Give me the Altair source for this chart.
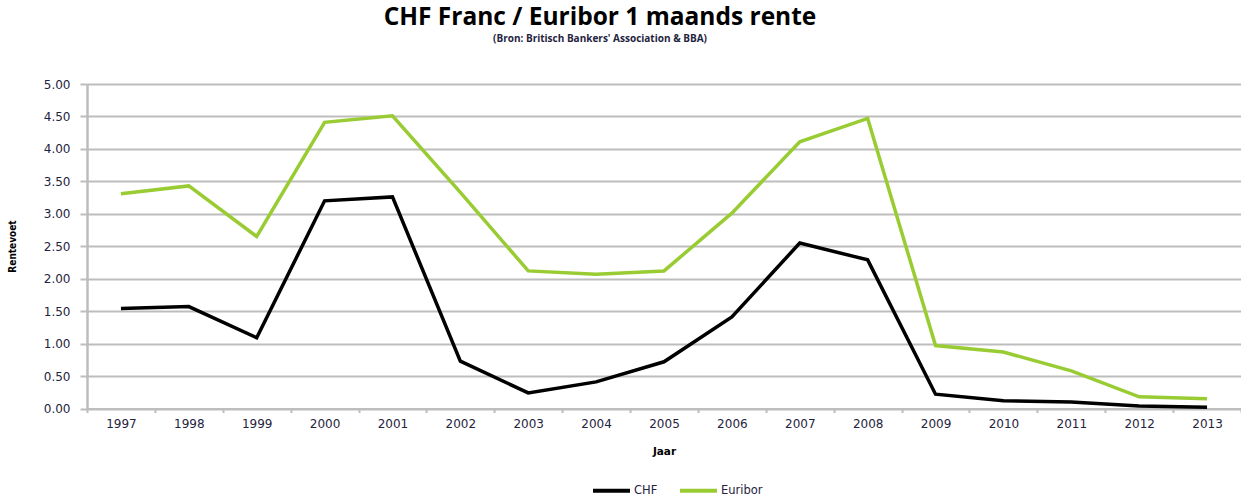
import altair as alt
import pandas as pd

years = [1997, 1998, 1999, 2000, 2001, 2002, 2003, 2004, 2005, 2006, 2007, 2008, 2009, 2010, 2011, 2012, 2013]
chf = [1.54, 1.57, 1.09, 3.20, 3.26, 0.73, 0.24, 0.41, 0.72, 1.41, 2.55, 2.29, 0.22, 0.12, 0.10, 0.04, 0.02]
euribor = [3.31, 3.43, 2.65, 4.41, 4.51, 3.33, 2.12, 2.07, 2.12, 3.01, 4.11, 4.47, 0.97, 0.87, 0.58, 0.18, 0.15]
series_names = ["CHF", "Euribor"]
series_colors = ["#000000", "#99cc33"]
y_ticks = [0.0, 0.5, 1.0, 1.5, 2.0, 2.5, 3.0, 3.5, 4.0, 4.5, 5.0]

rows = []
for name, vals in zip(series_names, [chf, euribor]):
    for yr, v in zip(years, vals):
        rows.append({"Jaar": str(yr), "Rentevoet": v, "Reeks": name})
df = pd.DataFrame(rows)

label_color = "#1f2440"
grid_color = "#bdbdbd"

chart = alt.Chart(df).mark_line(strokeWidth=3.5, strokeJoin="miter").encode(
    x=alt.X(
        "Jaar:O",
        bandPosition=0.5,
        scale=alt.Scale(type="band", paddingInner=0, paddingOuter=0),
        axis=alt.Axis(
            title="Jaar",
            labelAngle=0,
            tickBand="extent",
            grid=False,
            ticks=True,
            tickSize=4,
            tickColor=grid_color,
            tickWidth=2,
            domainColor=grid_color,
            domainWidth=2,
            labelFont="DejaVu Sans",
            labelFontSize=12,
            labelColor=label_color,
            labelPadding=6,
            titleFont="DejaVu Sans",
            titleFontSize=10.5,
            titleFontWeight="bold",
            titleColor="#000000",
            titlePadding=17,
        ),
    ),
    y=alt.Y(
        "Rentevoet:Q",
        scale=alt.Scale(domain=[0, 5], nice=False, zero=True),
        axis=alt.Axis(
            title="Rentevoet",
            values=y_ticks,
            format=".2f",
            grid=True,
            gridColor=grid_color,
            gridWidth=2,
            ticks=True,
            tickSize=7,
            tickColor=grid_color,
            tickWidth=2,
            domainColor=grid_color,
            domainWidth=2.5,
            labelFont="DejaVu Sans",
            labelFontSize=12,
            labelColor=label_color,
            labelPadding=10,
            titleFont="DejaVu Sans Condensed",
            titleFontSize=10,
            titleFontWeight="bold",
            titleColor="#000000",
            titleX=-70,
            titleY=162,
        ),
    ),
    color=alt.Color(
        "Reeks:N",
        scale=alt.Scale(domain=series_names, range=series_colors),
        legend=alt.Legend(
            title=None,
            orient="none",
            direction="horizontal",
            legendX=504,
            legendY=386,
            symbolType="stroke",
            symbolSize=1369,
            symbolStrokeWidth=4,
            labelFont="DejaVu Sans",
            labelFontSize=11.5,
            labelColor=label_color,
            labelOffset=2,
            columnPadding=14,
        ),
    ),
).properties(
    width=1154,
    height=324.5,
    title=alt.TitleParams(
        text="CHF Franc / Euribor 1 maands rente",
        subtitle="(Bron: Britisch Bankers' Association & BBA)",
        anchor="middle",
        dx=-64,
        offset=33,
        font="Open Sans",
        fontSize=24.5,
        fontWeight="bold",
        color="#000000",
        subtitleFont="Open Sans",
        subtitleFontSize=10,
        subtitleFontWeight="bold",
        subtitleColor="#1f2440",
        subtitlePadding=4,
    ),
    autosize=alt.AutoSizeParams(type="none"),
    padding={"left": 87, "top": 84, "right": 0, "bottom": 90},
).configure_view(
    fill="#ebebeb",
    stroke=None,
).configure(background="#ffffff")

chart.save("out.html", embed_options={"renderer": "svg", "actions": False})
